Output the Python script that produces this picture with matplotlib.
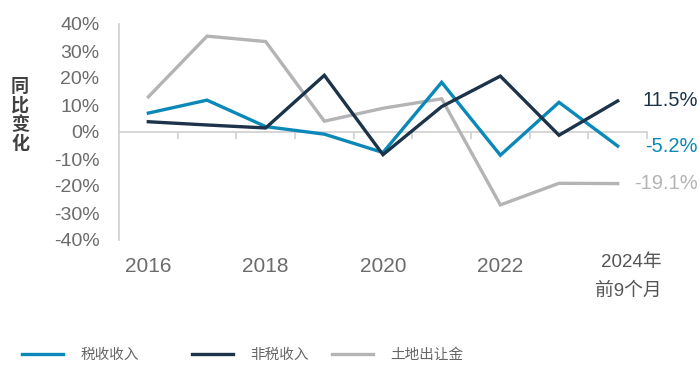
import matplotlib
matplotlib.use("Agg")
import matplotlib.pyplot as plt
import matplotlib.transforms as mtransforms
import numpy as np

plt.rcParams['font.family'] = ['Liberation Sans', 'Noto Sans CJK SC', 'DejaVu Sans']

categories = ['2016', '2017', '2018', '2019', '2020', '2021', '2022', '2023', '2024年\n前9个月']
shown_labels = ['2016', '', '2018', '', '2020', '', '2022', '', '2024年\n前9个月']
tax = [7.0, 11.8, 2.0, -0.8, -7.6, 18.4, -8.6, 11.0, -5.2]
nontax = [3.8, 2.6, 1.5, 21.0, -8.4, 9.4, 20.7, -1.2, 11.5]
land = [13.0, 35.5, 33.5, 4.0, 8.8, 12.3, -27.0, -19.0, -19.1]
series_names = ['税收收入', '非税收入', '土地出让金']
end_labels = ['-5.2%', '11.5%', '-19.1%']
yticks = [-40, -30, -20, -10, 0, 10, 20, 30, 40]

colors = ['#0a89b8', '#1c3349', '#b4b4b6']
tick_color = '#6b6b6b'

fig = plt.figure(figsize=(7, 3.65), dpi=100)
ax = fig.add_axes([119/700, 1-240/365, (647-119)/700, (240-24)/365])

x = np.arange(len(categories))
data = [tax, nontax, land]
handles = [None]*3
for i in [2, 0, 1]:
    ln, = ax.plot(x, data[i], color=colors[i], lw=2.4, solid_joinstyle='miter', zorder=3)
    handles[i] = ln

ax.set_xlim(-0.5, len(categories)-0.5)
ax.set_ylim(-40, 40)
ax.set_yticks(yticks)
ax.set_yticklabels([f'{v}%' for v in yticks], fontsize=14, color=tick_color)
ax.tick_params(axis='y', length=0, pad=14)

for s in ['top', 'right']:
    ax.spines[s].set_visible(False)
ax.spines['left'].set_color('#d0d0d0')
ax.spines['left'].set_linewidth(1.2)
ax.spines['bottom'].set_position(('data', 0))
ax.spines['bottom'].set_color('#d0d0d0')
ax.spines['bottom'].set_linewidth(1.2)
ax.set_xticks(x)
ax.set_xticklabels([])
ax.tick_params(axis='x', which='major', length=0)
ax.set_xticks(np.arange(0.5, len(categories), 1), minor=True)
ax.tick_params(axis='x', which='minor', length=5, width=1.2, color='#d0d0d0', direction='out')

trans = mtransforms.blended_transform_factory(ax.transData, fig.transFigure)
for i, lab in enumerate(shown_labels):
    if not lab:
        continue
    if '\n' in lab:
        a, b = lab.split('\n')
        ax.text(i + 0.24, 1-262/365, a, transform=trans, ha='center', va='center',
                fontsize=13.5, color='#555555')
        ax.text(i + 0.18, 1-291/365, b, transform=trans, ha='center', va='center',
                fontsize=13.5, color='#555555')
    else:
        ax.text(i, 1-267/365, lab, transform=trans, ha='center', va='center',
                fontsize=15, color=tick_color)

# end labels
ytrans = mtransforms.blended_transform_factory(fig.transFigure, ax.transData)
for i in range(3):
    ax.annotate(end_labels[i], xy=(x[-1], data[i][-1]), xycoords='data',
                xytext=(698/700, data[i][-1]), textcoords=ytrans,
                ha='right', va='center', fontsize=14.5, color=colors[i])

fig.text(20/700, 1-115/365, '同\n比\n变\n化', ha='center', va='center', fontsize=13,
         fontweight='bold', color='#404040', linespacing=1.0,
         family=['Noto Sans CJK SC'])

legend_x = [22/700, 192/700, 332/700]
for i in range(3):
    fig.legend([handles[i]], [series_names[i]], loc='center left',
               bbox_to_anchor=(legend_x[i], 1-355/365), frameon=False,
               borderaxespad=0, borderpad=0, handlelength=2.8, handletextpad=1.2,
               prop={'family': ['Noto Sans CJK SC'], 'size': 10.5, 'weight': 'light'},
               labelcolor='#666666')

fig.savefig('out.png', dpi=100)
